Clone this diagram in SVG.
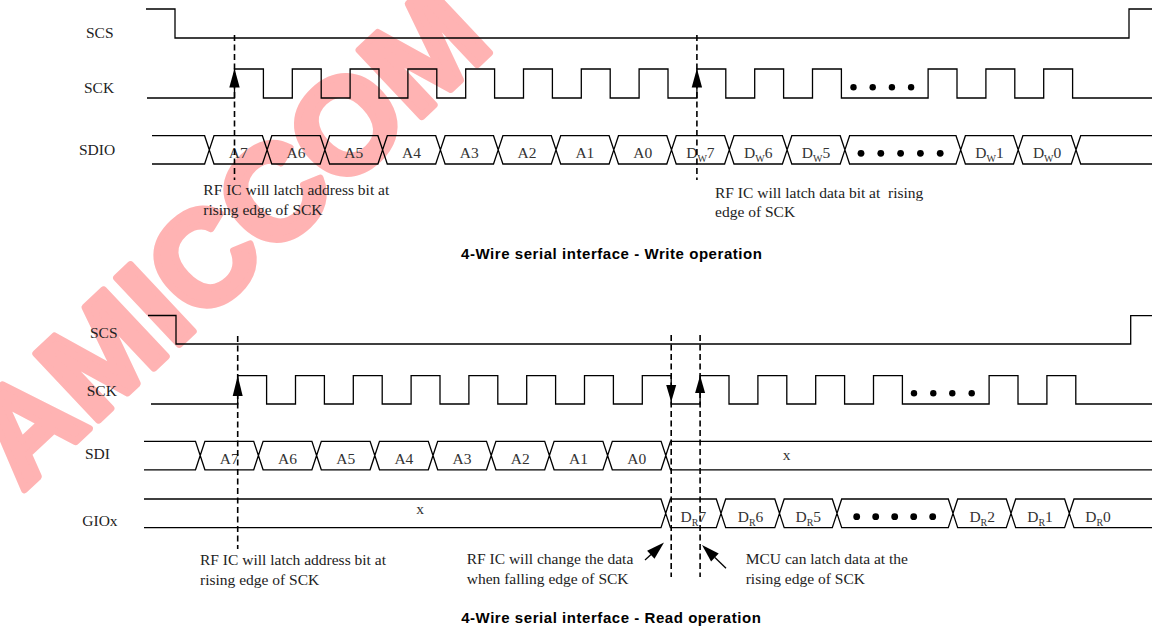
<svg xmlns="http://www.w3.org/2000/svg" width="1152" height="631" viewBox="0 0 1152 631">
<style>
.sig{fill:none;stroke:#000;stroke-width:1.3}
.lbl{font-family:"Liberation Serif","Times New Roman",serif;font-size:15.5px;fill:#222}
.cell{font-family:"Liberation Serif","Times New Roman",serif;font-size:15.5px;fill:#333;text-anchor:middle}
.sub{font-size:10px}
.title{font-family:"Liberation Sans",Arial,sans-serif;font-weight:bold;font-size:15px;letter-spacing:0.55px;text-anchor:middle;fill:#000}
.dash{fill:none;stroke:#000;stroke-width:1.6;stroke-dasharray:6 3.5}
.dot{fill:#000}
.head{fill:#000;stroke:none}
.ptr{fill:none;stroke:#000;stroke-width:1.3}
.wm{font-family:"Liberation Sans",Arial,sans-serif;font-weight:bold;font-size:133px;fill:#FFB3B3;stroke:#FFB3B3;stroke-width:7;stroke-linejoin:round}
</style>
<rect width="1152" height="631" fill="#fff"/>
<text class="wm" text-anchor="end" transform="translate(496,47) rotate(-43.2)">AMICCOM</text>

<!-- ===== Write operation ===== -->
<g id="w-scs">
<text class="lbl" x="86" y="38">SCS</text>
<path class="sig" d="M146,9 H175 V38 H1129 V9 H1152"/>
</g>
<g id="w-sck">
<text class="lbl" x="84" y="93.3">SCK</text>
<path class="sig" d="M147,98 H234.5 V69 H263.4 V98 H292.3 V69 H321.2 V98 H350.1 V69 H379 V98 H407.9 V69 H436.8 V98 H465.7 V69 H494.6 V98 H523.5 V69 H552.4 V98 H581.3 V69 H610.2 V98 H639.1 V69 H668 V98 H696.9 V69 H725.8 V98 H754.7 V69 H783.6 V98 H812.5 V69 H841.4 V98 H928.1 V69 H957 V98 H985.9 V69 H1014.8 V98 H1043.7 V69 H1072.6 V98 H1152"/>
<circle class="dot" cx="853.5" cy="87.3" r="3.2"/>
<circle class="dot" cx="872.7" cy="87.3" r="3.2"/>
<circle class="dot" cx="891.9" cy="87.3" r="3.2"/>
<circle class="dot" cx="911.1" cy="87.3" r="3.2"/>
</g>
<g id="w-sdio">
<text class="lbl" x="79" y="154.5">SDIO</text>
<path class="sig" d="M152,135.7 H204.6 L209.3,149.85 L204.6,164 H152
M209.3,149.85 L214,135.7 H262.4 L267.1,149.85 L262.4,164 H214 Z
M267.1,149.85 L271.8,135.7 H320.2 L324.9,149.85 L320.2,164 H271.8 Z
M324.9,149.85 L329.6,135.7 H377.9 L382.6,149.85 L377.9,164 H329.6 Z
M382.6,149.85 L387.3,135.7 H435.7 L440.4,149.85 L435.7,164 H387.3 Z
M440.4,149.85 L445.1,135.7 H493.5 L498.2,149.85 L493.5,164 H445.1 Z
M498.2,149.85 L502.9,135.7 H551.3 L556,149.85 L551.3,164 H502.9 Z
M556,149.85 L560.7,135.7 H609.1 L613.8,149.85 L609.1,164 H560.7 Z
M613.8,149.85 L618.5,135.7 H666.8 L671.5,149.85 L666.8,164 H618.5 Z
M671.5,149.85 L676.2,135.7 H724.6 L729.3,149.85 L724.6,164 H676.2 Z
M729.3,149.85 L734,135.7 H782.4 L787.1,149.85 L782.4,164 H734 Z
M787.1,149.85 L791.8,135.7 H840.2 L844.9,149.85 L840.2,164 H791.8 Z
M844.9,149.85 L849.6,135.7 H956 L960.7,149.85 L956,164 H849.6 Z
M960.7,149.85 L965.4,135.7 H1013.5 L1018.2,149.85 L1013.5,164 H965.4 Z
M1018.2,149.85 L1022.9,135.7 H1071.3 L1076,149.85 L1071.3,164 H1022.9 Z
M1152,135.7 H1080.7 L1076,149.85 L1080.7,164 H1152"/>
<text class="cell" x="238.2" y="157.7">A7</text>
<text class="cell" x="296" y="157.7">A6</text>
<text class="cell" x="353.8" y="157.7">A5</text>
<text class="cell" x="411.5" y="157.7">A4</text>
<text class="cell" x="469.3" y="157.7">A3</text>
<text class="cell" x="527.1" y="157.7">A2</text>
<text class="cell" x="584.9" y="157.7">A1</text>
<text class="cell" x="642.7" y="157.7">A0</text>
<text class="cell" x="700.4" y="157.7">D<tspan class="sub" dy="4.5">W</tspan><tspan dy="-4.5">7</tspan></text>
<text class="cell" x="758.2" y="157.7">D<tspan class="sub" dy="4.5">W</tspan><tspan dy="-4.5">6</tspan></text>
<text class="cell" x="816" y="157.7">D<tspan class="sub" dy="4.5">W</tspan><tspan dy="-4.5">5</tspan></text>
<text class="cell" x="989.5" y="157.7">D<tspan class="sub" dy="4.5">W</tspan><tspan dy="-4.5">1</tspan></text>
<text class="cell" x="1047.1" y="157.7">D<tspan class="sub" dy="4.5">W</tspan><tspan dy="-4.5">0</tspan></text>
<circle class="dot" cx="861" cy="153.3" r="3.4"/>
<circle class="dot" cx="880.8" cy="153.3" r="3.4"/>
<circle class="dot" cx="900.6" cy="153.3" r="3.4"/>
<circle class="dot" cx="920.4" cy="153.3" r="3.4"/>
<circle class="dot" cx="940.2" cy="153.3" r="3.4"/>
</g>
<g id="w-note-addr">
<text class="lbl" x="203.3" y="195">RF IC will latch address bit at</text>
<text class="lbl" x="203.3" y="214.5">rising edge of SCK</text>
</g>
<g id="w-note-data">
<text class="lbl" x="715" y="197.5" style="white-space:pre">RF IC will latch data bit at  rising</text>
<text class="lbl" x="715" y="217">edge of SCK</text>
</g>
<g id="w-title">
<text class="title" x="611.8" y="259.3">4-Wire serial interface - Write operation</text>
</g>

<!-- ===== Read operation ===== -->
<g id="r-scs">
<text class="lbl" x="90" y="338.3">SCS</text>
<path class="sig" d="M148,315.5 H176 V344 H1130.7 V315.7 H1152"/>
</g>
<g id="r-sck">
<text class="lbl" x="86.7" y="396">SCK</text>
<path class="sig" d="M151,404 H237.7 V375.7 H266.6 V404 H295.5 V375.7 H324.4 V404 H353.3 V375.7 H382.2 V404 H411.1 V375.7 H440 V404 H468.9 V375.7 H497.8 V404 H526.7 V375.7 H555.6 V404 H584.5 V375.7 H613.4 V404 H642.3 V375.7 H671.2 V404 H700.1 V375.7 H729 V404 H757.9 V375.7 H786.8 V404 H815.7 V375.7 H844.6 V404 H873.5 V375.7 H902.4 V404 H989.1 V375.7 H1018 V404 H1046.9 V375.7 H1075.8 V404 H1152"/>
<circle class="dot" cx="914" cy="393.3" r="3.2"/>
<circle class="dot" cx="933.3" cy="393.3" r="3.2"/>
<circle class="dot" cx="952.3" cy="393.3" r="3.2"/>
<circle class="dot" cx="971.7" cy="393.3" r="3.2"/>
</g>
<g id="r-sdi">
<text class="lbl" x="85" y="458.5">SDI</text>
<path class="sig" d="M144,441.3 H195.5 L200.2,455.55 L195.5,469.8 H144
M200.2,455.55 L204.9,441.3 H253.7 L258.4,455.55 L253.7,469.8 H204.9 Z
M258.4,455.55 L263.1,441.3 H311.9 L316.6,455.55 L311.9,469.8 H263.1 Z
M316.6,455.55 L321.3,441.3 H370.1 L374.8,455.55 L370.1,469.8 H321.3 Z
M374.8,455.55 L379.5,441.3 H428.3 L433,455.55 L428.3,469.8 H379.5 Z
M433,455.55 L437.7,441.3 H486.5 L491.2,455.55 L486.5,469.8 H437.7 Z
M491.2,455.55 L495.9,441.3 H544.7 L549.4,455.55 L544.7,469.8 H495.9 Z
M549.4,455.55 L554.1,441.3 H602.9 L607.6,455.55 L602.9,469.8 H554.1 Z
M607.6,455.55 L612.3,441.3 H661.1 L665.8,455.55 L661.1,469.8 H612.3 Z
M1152,441.3 H670.5 L665.8,455.55 L670.5,469.8 H1152"/>
<text class="cell" x="229.3" y="464">A7</text>
<text class="cell" x="287.5" y="464">A6</text>
<text class="cell" x="345.7" y="464">A5</text>
<text class="cell" x="403.9" y="464">A4</text>
<text class="cell" x="462.1" y="464">A3</text>
<text class="cell" x="520.3" y="464">A2</text>
<text class="cell" x="578.5" y="464">A1</text>
<text class="cell" x="636.7" y="464">A0</text>
<text class="cell" x="786.7" y="460">x</text>
</g>
<g id="r-giox">
<text class="lbl" x="82.3" y="525.5">GIOx</text>
<path class="sig" d="M144,499 H661 L665.7,513.35 L661,527.7 H144
M665.7,513.35 L670.4,499 H716.3 L721,513.35 L716.3,527.7 H670.4 Z
M721,513.35 L725.7,499 H774.8 L779.5,513.35 L774.8,527.7 H725.7 Z
M779.5,513.35 L784.2,499 H832.3 L837,513.35 L832.3,527.7 H784.2 Z
M837,513.35 L841.7,499 H948.3 L953,513.35 L948.3,527.7 H841.7 Z
M953,513.35 L957.7,499 H1006.3 L1011,513.35 L1006.3,527.7 H957.7 Z
M1011,513.35 L1015.7,499 H1064.6 L1069.3,513.35 L1064.6,527.7 H1015.7 Z
M1152,499 H1074 L1069.3,513.35 L1074,527.7 H1152"/>
<text class="cell" x="420" y="514">x</text>
<text class="cell" x="693.4" y="521.5">D<tspan class="sub" dy="4.5">R</tspan><tspan dy="-4.5">7</tspan></text>
<text class="cell" x="750.5" y="521.5">D<tspan class="sub" dy="4.5">R</tspan><tspan dy="-4.5">6</tspan></text>
<text class="cell" x="808.3" y="521.5">D<tspan class="sub" dy="4.5">R</tspan><tspan dy="-4.5">5</tspan></text>
<text class="cell" x="982.2" y="521.5">D<tspan class="sub" dy="4.5">R</tspan><tspan dy="-4.5">2</tspan></text>
<text class="cell" x="1040" y="521.5">D<tspan class="sub" dy="4.5">R</tspan><tspan dy="-4.5">1</tspan></text>
<text class="cell" x="1098" y="521.5">D<tspan class="sub" dy="4.5">R</tspan><tspan dy="-4.5">0</tspan></text>
<circle class="dot" cx="856.7" cy="516.7" r="3.4"/>
<circle class="dot" cx="875.7" cy="516.7" r="3.4"/>
<circle class="dot" cx="894.7" cy="516.7" r="3.4"/>
<circle class="dot" cx="913.7" cy="516.7" r="3.4"/>
<circle class="dot" cx="932.7" cy="516.7" r="3.4"/>
</g>
<g id="r-note-addr">
<text class="lbl" x="200" y="565">RF IC will latch address bit at</text>
<text class="lbl" x="200" y="584.5">rising edge of SCK</text>
</g>
<g id="r-note-change">
<text class="lbl" x="466.7" y="564">RF IC will change the data</text>
<text class="lbl" x="466.7" y="583.5">when falling edge of SCK</text>
</g>
<g id="r-note-mcu">
<text class="lbl" x="745.7" y="564">MCU can latch data at the</text>
<text class="lbl" x="745.7" y="583.5">rising edge of SCK</text>
</g>
<g id="r-title">
<text class="title" x="611.3" y="623.3">4-Wire serial interface - Read operation</text>
</g>

<!-- ===== connectors ===== -->
<g id="connectors">
<line class="dash" x1="234.5" y1="35" x2="234.5" y2="180"/>
<line class="dash" x1="696.9" y1="35" x2="696.9" y2="180"/>
<path class="head" d="M234.5,68.5 L229.3,87.5 L239.7,87.5 Z"/>
<path class="head" d="M696.9,68.5 L691.7,87.5 L702.1,87.5 Z"/>
<line class="dash" x1="237.7" y1="336" x2="237.7" y2="549"/>
<line class="dash" x1="671.2" y1="335" x2="671.2" y2="577"/>
<line class="dash" x1="700.1" y1="335" x2="700.1" y2="577"/>
<path class="head" d="M237.7,375.7 L232.7,396 L242.7,396 Z"/>
<path class="head" d="M671.2,402 L666.2,385 L676.2,385 Z"/>
<path class="head" d="M700.1,375.5 L695.1,393 L705.1,393 Z"/>
<line class="ptr" x1="645" y1="560" x2="651" y2="554.5"/>
<path class="head" d="M664,542.5 L654.5,558.7 L647.1,550.7 Z"/>
<line class="ptr" x1="726" y1="568.3" x2="714.9" y2="557.5"/>
<path class="head" d="M702,545 L718.7,553.6 L711.1,561.4 Z"/>
</g>
</svg>
